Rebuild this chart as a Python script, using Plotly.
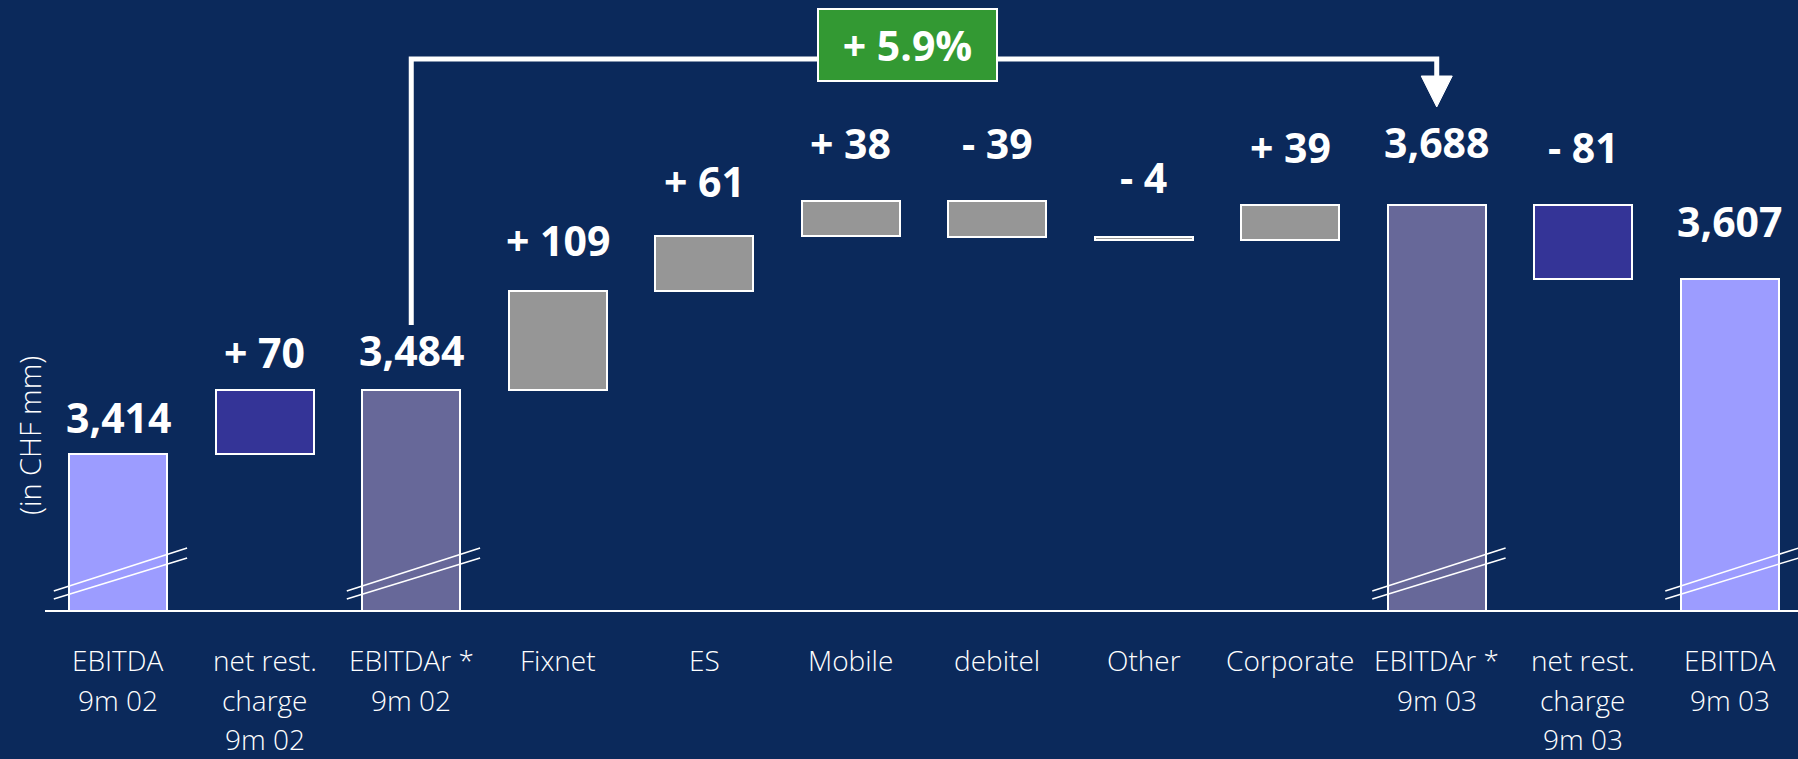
import plotly.graph_objects as go

# ---------------- data ----------------
categories = ["EBITDA<br>9m 02", "net rest.<br>charge<br>9m 02", "EBITDAr *<br>9m 02",
              "Fixnet", "ES", "Mobile", "debitel", "Other", "Corporate",
              "EBITDAr *<br>9m 03", "net rest.<br>charge<br>9m 03", "EBITDA<br>9m 03"]
values = [3414, 70, 3484, 109, 61, 38, -39, -4, 39, 3688, -81, 3607]
measures = ["total", "relative", "total", "relative", "relative", "relative",
            "relative", "relative", "relative", "total", "relative", "total"]
kinds = ["ebitda", "rest", "ebitdar", "seg", "seg", "seg", "seg", "seg", "seg",
         "ebitdar", "rest", "ebitda"]
growth_from, growth_to = 2, 9          # EBITDAr 9m 02 -> EBITDAr 9m 03

# ---------------- style ----------------
BG = "#0B295B"
COLORS = {"ebitda": "#9C9CFF", "rest": "#343497", "ebitdar": "#676899", "seg": "#969696"}
FONT = "Open Sans"
label_gap = [21, 22, 24, 35, 39, 42, 42, 44, 42, 47, 42, 42]   # px between bar top and label baseline
Y0, Y1 = 3242.3, 3913.5
X0, X1 = -0.5, 11.466
PLOT_H = 610

# ---------------- derived geometry ----------------
bases, heights, tops = [], [], []
running = 0
for v, m in zip(values, measures):
    if m == "total":
        bases.append(0)
        heights.append(v)
        running = v
        tops.append(v)
    else:
        bases.append(running)
        heights.append(v)
        tops.append(max(running, running + v))
        running += v

def fmt(v, m):
    if m == "total":
        return f"{v:,}"
    return f"+ {v}" if v > 0 else f"- {abs(v)}"

xs = list(range(len(categories)))

fig = go.Figure()
fig.add_trace(go.Bar(
    x=xs, y=heights, base=bases, width=0.67,
    marker=dict(color=[COLORS[k] for k in kinds], line=dict(color="white", width=2)),
    hoverinfo="skip", showlegend=False,
))

annotations = []
# value labels
for i, (v, m) in enumerate(zip(values, measures)):
    annotations.append(dict(
        x=i, y=tops[i], xref="x", yref="y", text=fmt(v, m), showarrow=False,
        xanchor="center", yanchor="bottom", yshift=label_gap[i] - 14,
        font=dict(family=FONT, size=41, color="white", weight="bold"),
    ))
# category labels, one annotation per line
for i, cat in enumerate(categories):
    for j, line in enumerate(cat.split("<br>")):
        annotations.append(dict(
            x=i, y=0, xref="x", yref="paper", text=line, showarrow=False,
            xanchor="center", yanchor="top", yshift=-(29 + 39.5 * j),
            font=dict(family=FONT, size=28, color="white", weight=300),
        ))
# y-axis title
annotations.append(dict(
    x=0, y=(PLOT_H - 436) / PLOT_H, xref="paper", yref="paper", xshift=-16,
    text="(in CHF mm)", textangle=-90, showarrow=False,
    xanchor="center", yanchor="middle",
    font=dict(family=FONT, size=29, color="white", weight=300),
))
# growth box
growth = values[growth_to] / values[growth_from] - 1
annotations.append(dict(
    x=5.39, y=(PLOT_H - 45) / PLOT_H, xref="x", yref="paper",
    text=f"+ {growth * 100:.1f}%", showarrow=False,
    xanchor="center", yanchor="middle", width=175, height=68,
    bgcolor="#339933", bordercolor="white", borderwidth=2, borderpad=1,
    font=dict(family=FONT, size=41, color="white", weight="bold"),
))

def py(pix):
    return (PLOT_H - pix) / PLOT_H

shapes = []
# bracket
shapes.append(dict(
    type="path", xref="x", yref="paper", layer="above",
    path=f"M {growth_from},{py(325)} L {growth_from},{py(59)} L {growth_to},{py(59)} L {growth_to},{py(80)}",
    line=dict(color="white", width=5),
))
# arrow head
hw = 0.106
shapes.append(dict(
    type="path", xref="x", yref="paper", layer="above",
    path=f"M {growth_to - hw},{py(76)} L {growth_to + hw},{py(76)} L {growth_to},{py(107)} Z",
    fillcolor="white", line=dict(color="white", width=1),
))
# axis break marks on full bars
for i, m in enumerate(measures):
    if m == "total":
        for (yl, yr) in [(591, 548), (599, 558)]:
            shapes.append(dict(
                type="line", xref="x", yref="paper", layer="above",
                x0=i - 0.44, x1=i + 0.47, y0=py(yl), y1=py(yr),
                line=dict(color="white", width=1.5),
            ))

fig.update_layout(
    width=1798, height=759,
    margin=dict(l=45, r=0, t=0, b=149),
    paper_bgcolor=BG, plot_bgcolor=BG,
    xaxis=dict(range=[X0, X1], showticklabels=False, showgrid=False, zeroline=False,
               showline=True, linecolor="white", linewidth=1.5, ticks=""),
    yaxis=dict(range=[Y0, Y1], visible=False, showgrid=False, zeroline=False),
    annotations=annotations, shapes=shapes, bargap=0,
)

fig.write_html("out.html")
